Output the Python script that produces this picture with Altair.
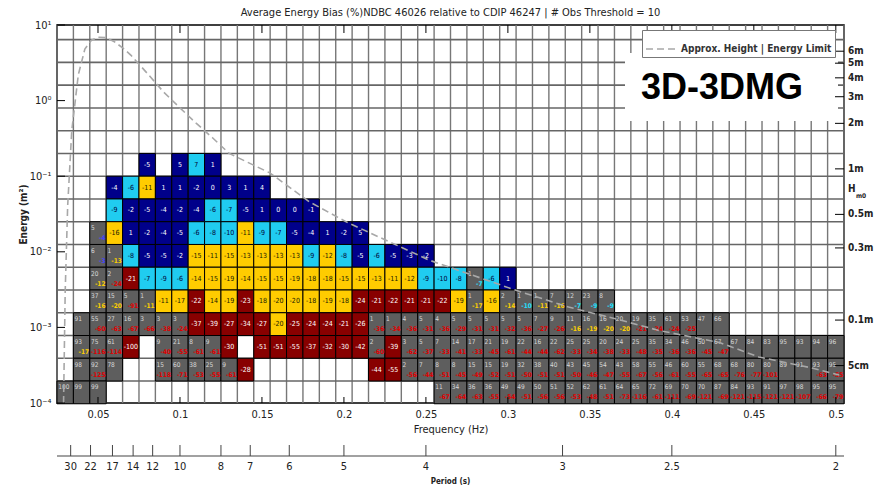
import altair as alt
import pandas as pd

TITLE = "Average Energy Bias (%)NDBC 46026 relative to CDIP 46247 | # Obs Threshold = 10"
STAMP = "3D-3DMG"
LEGEND_LABEL = "Approx. Height | Energy Limit"

FONT = "Liberation Sans Narrow, DejaVu Sans Condensed, Liberation Sans, sans-serif"

# frequency bin centres (Hz)
FREQ_BINS = [0.03, 0.04, 0.05, 0.06, 0.07, 0.08, 0.09, 0.10, 0.11, 0.12,
             0.13, 0.14, 0.15, 0.16, 0.17, 0.18, 0.19, 0.20, 0.21, 0.22,
             0.23, 0.24, 0.25, 0.26, 0.27, 0.28, 0.29, 0.30, 0.31, 0.32,
             0.33, 0.34, 0.35, 0.36, 0.37, 0.38, 0.39, 0.40, 0.41, 0.42,
             0.43, 0.44, 0.45, 0.46, 0.47, 0.48, 0.49, 0.50]
FREQ_HALF_WIDTH = 0.005

# energy bins (m^2): upper / lower edge of each row, top row first
ROW_TOP = [0.2, 0.1, 0.05, 0.025, 0.0125, 0.00625, 0.003125, 0.0015625,
           0.00078125, 0.000390625, 0.0001953125]
ROW_BOTTOM = [0.1, 0.05, 0.025, 0.0125, 0.00625, 0.003125, 0.0015625,
              0.00078125, 0.000390625, 0.0001953125, 0.00009765625]

# each row: (first frequency bin, cells)
#   number        -> coloured cell with energy bias (%)
#   [count, bias] -> grey cell (below obs threshold) with count and bias
#   None          -> empty
ROW_0 = (0.08, [-5, None, 5, 7, 1])
ROW_1 = (0.06, [-4, -6, -11, 1, 1, -2, 0, 3, 1, 4])
ROW_2 = (0.06, [-9, -2, -5, -4, -2, -4, -6, -7, -5, 1, 0, 0, -1])
ROW_3 = (0.05, [[5, -4], -16, 1, -2, -4, -5, -6, -8, -10, -11, -9, -7, -5, -4, 1, -2, 5])
ROW_4 = (0.05, [[6, -3], [1, -13], -8, -5, -5, -2, -15, -11, -15, -13, -13, -13, -13,
                -9, -12, -8, -5, -6, -5, -3, -2])
ROW_5 = (0.05, [[20, -12], [2, -24], -21, -7, -9, -6, -14, -15, -19, -14, -15, -15, -19,
                -18, -18, -15, -15, -13, -11, -12, -9, -10, -8, [1, -7], -6, 1])
ROW_6 = (0.05, [[37, -16], [15, -20], [5, -91], [1, -11], -11, -17, -22, -14, -19, -23,
                -18, -20, -20, -18, -19, -18, -24, -21, -22, -21, -21, -22, -19, [1, -17],
                -16, [2, -14], [1, -10], [1, -11], [7, -16], [12, -7], [23, -9], [8, -9]])
ROW_7 = (0.04, [[91, None], [55, -60], [27, -63], [16, -67], [3, -66], [3, -38], [3, -24],
                -37, -39, -27, -34, -27, -20, -25, -24, -24, -21, -26,
                [1, -36], [1, -34], [4, -36], [5, -31], [4, -36], [5, -29], [5, -31],
                [5, -31], [5, -32], [5, -36], [7, -27], [9, -26], [11, -16], [16, -19],
                [16, -20], [20, -20], [19, -21], [35, -24], [61, -24], [53, -25],
                [47, None], [66, None]])
ROW_8 = (0.04, [[93, -17], [75, -116], [61, -114], -100, None, [9, -40], [21, -55],
                [8, -61], [9, -61], -30, None, -51, -51, -55, -37, -32, -30, -42,
                [2, -60], -39, [3, -62], [5, -37], [7, -33], [14, -41], [17, -33],
                [21, -45], [19, -61], [22, -44], [16, -44], [22, -62], [25, -33],
                [25, -34], [20, -38], [24, -33], [25, -48], [35, -35], [34, -36],
                [46, -36], [50, -45], [67, -47], [67, None], [84, None], [83, None],
                [95, None], [93, None], [94, None], [96, None]])
ROW_9 = (0.04, [[98, None], [92, -125], [78, None], None, None, [15, -118], [60, -71],
                [38, -53], [25, -55], [9, -61], -28, None, None, None, None, None, None,
                None, -44, -55, [2, -56], [7, -44], [8, -51], [8, -45], [15, -49],
                [15, -52], [19, -51], [32, -50], [38, -51], [40, -51], [43, -50],
                [45, -46], [54, -47], [43, -55], [58, -67], [55, -56], [46, -61],
                [60, -55], [55, -65], [68, -65], [68, -76], [80, -77], [80, -101],
                [89, None], [91, None], [93, -63], [95, -55]])
ROW_10 = (0.03, [[100, None], [99, None], [99, None],
                 None, None, None, None, None, None, None, None, None, None,
                 None, None, None, None, None, None, None, None, None, None,
                 [11, -67], [34, -64], [36, -63], [36, -55], [49, -54], [49, -51],
                 [50, -56], [51, -56], [52, -53], [62, -48], [61, -51], [64, -73],
                 [65, -116], [72, -61], [69, -111], [70, -69], [70, -121], [87, -69],
                 [84, -121], [93, -115], [91, -121], [97, -121], [98, -107], [95, -66],
                 [95, -79]])
ROWS = [ROW_0, ROW_1, ROW_2, ROW_3, ROW_4, ROW_5, ROW_6, ROW_7, ROW_8, ROW_9, ROW_10]

# grid, ticks and labels
V_GRID = [0.025, 0.035, 0.045, 0.055, 0.065, 0.075, 0.085, 0.095, 0.105, 0.115,
          0.125, 0.135, 0.145, 0.155, 0.165, 0.175, 0.185, 0.195, 0.205, 0.215,
          0.225, 0.235, 0.245, 0.255, 0.265, 0.275, 0.285, 0.295, 0.305, 0.315,
          0.325, 0.335, 0.345, 0.355, 0.365, 0.375, 0.385, 0.395, 0.405, 0.415,
          0.425, 0.435, 0.445, 0.455, 0.465, 0.475, 0.485, 0.495, 0.505]
H_GRID = [6.4, 3.2, 1.6, 0.8, 0.4, 0.2, 0.1, 0.05, 0.025, 0.0125, 0.00625, 0.003125,
          0.0015625, 0.00078125, 0.000390625, 0.0001953125]
X_TICKS = [0.05, 0.1, 0.15, 0.2, 0.25, 0.3, 0.35, 0.4, 0.45, 0.5]
Y_TICKS = [0.0001, 0.001, 0.01, 0.1, 1, 10]
Y_LABELS = ["10⁻⁴", "10⁻³", "10⁻²", "10⁻¹", "10⁰", "10¹"]
H_LABELS = ["6m", "5m", "4m", "3m", "2m", "1m", "0.5m", "0.3m", "0.1m", "5cm"]
H_ENERGY = [4.5, 3.125, 2.0, 1.125, 0.5, 0.125, 0.03125, 0.01125, 0.00125, 0.0003125]
PERIODS = [30, 22, 17, 14, 12, 10, 8, 7, 6, 5, 4, 3, 2.5, 2]

# approximate height / energy limit curve
CURVE_FREQ = [0.0290, 0.0300, 0.0315, 0.0340, 0.0380, 0.0420, 0.0460, 0.0500, 0.0550,
              0.0600, 0.0650, 0.0700, 0.0800, 0.0900, 0.1000, 0.1100, 0.1200, 0.1300,
              0.1550, 0.1790, 0.2020, 0.2260, 0.2520, 0.3050, 0.3370, 0.3680, 0.3920,
              0.4290, 0.4530, 0.4840, 0.5020]
CURVE_ENERGY = [0.0001, 0.003, 0.04, 0.4, 2.2, 4.8, 6.3, 6.9, 6.8, 6.0, 5.0, 4.0, 2.3,
                1.3, 0.8, 0.5, 0.32, 0.20, 0.110, 0.0457, 0.0245, 0.0141, 0.00776,
                0.00309, 0.00186, 0.00126, 0.000912, 0.000631, 0.000407, 0.000295,
                0.000234]

CLASSES = ["a", "b", "c", "d", "g"]
CELL_COLORS = ["#00008a", "#20ccf0", "#ffcc00", "#880000", "#5e5e5e"]
TEXT_ON_CELL = {"a": "#ffffff", "b": "#000033", "c": "#1a1a00", "d": "#ffffff"}
BIAS_ON_GREY = {"a": "#4040ff", "b": "#20e0ff", "c": "#ffd000", "d": "#e00000"}


def bias_class(b):
    m = abs(b)
    if m <= 5:
        return "a"
    if m <= 10:
        return "b"
    if m <= 20:
        return "c"
    return "d"


records = []
for r, (start, entries) in enumerate(ROWS):
    i0 = FREQ_BINS.index(start)
    for j, e in enumerate(entries):
        if e is None:
            continue
        f = FREQ_BINS[i0 + j]
        rec = dict(f=f, f0=f - FREQ_HALF_WIDTH, f1=f + FREQ_HALF_WIDTH,
                   e0=ROW_BOTTOM[r], e1=ROW_TOP[r],
                   em=(ROW_BOTTOM[r] * ROW_TOP[r]) ** 0.5)
        if isinstance(e, list):
            cnt, b = e
            rec.update(cls="g", count=str(cnt),
                       bias="" if b is None else str(b),
                       bcol="#ffffff" if b is None else BIAS_ON_GREY[bias_class(b)])
        else:
            c = bias_class(e)
            rec.update(cls=c, label=str(e), tcol=TEXT_ON_CELL[c])
        records.append(rec)
cells = pd.DataFrame(records)
coloured = cells[cells["cls"] != "g"]
grey = cells[cells["cls"] == "g"]

x_scale = alt.Scale(domain=[0.025, 0.505], nice=False, zero=False)
y_scale = alt.Scale(type="log", domain=[0.0001, 10], nice=False)

label_expr = " : ".join(
    f"datum.value < {v * 3} ? '{lab}'" for v, lab in zip(Y_TICKS[:-1], Y_LABELS[:-1])
) + f" : '{Y_LABELS[-1]}'"

x_axis = alt.Axis(values=X_TICKS, format="~g", grid=False, ticks=False, domain=False,
                  labelFont=FONT, labelFontSize=11, labelColor="#222", labelPadding=5,
                  labelFlush=False, title="Frequency (Hz)", titleFont=FONT,
                  titleFontSize=11, titleFontWeight="normal", titleColor="#222",
                  titlePadding=4)
y_axis = alt.Axis(values=Y_TICKS, labelExpr=label_expr, grid=False, ticks=False,
                  domain=False, labelFont=FONT, labelFontSize=11, labelColor="#222",
                  labelPadding=6, labelFlush=False, labelOverlap=False,
                  title="Energy (m²)", titleFont=FONT, titleFontSize=10,
                  titleFontWeight="bold", titleColor="#222", titlePadding=1)


def X(field):
    return alt.X(field, type="quantitative", scale=x_scale, axis=x_axis)


def Y(field):
    return alt.Y(field, type="quantitative", scale=y_scale, axis=y_axis)


W, H = 787, 378

vgrid = alt.Chart(pd.DataFrame({"fe": V_GRID})).mark_rule(
    color="#777", strokeWidth=1.4).encode(x=X("fe"))
hgrid = alt.Chart(pd.DataFrame({"E": H_GRID})).mark_rule(
    color="#666", strokeWidth=1.6).encode(y=Y("E"))

rects = alt.Chart(cells).mark_rect(stroke="black", strokeWidth=1).encode(
    x=X("f0"), x2="f1", y=Y("e0"), y2="e1",
    color=alt.Color("cls:N", scale=alt.Scale(domain=CLASSES, range=CELL_COLORS),
                    legend=None))

cell_text = alt.Chart(coloured).mark_text(font=FONT, fontSize=7).encode(
    x=X("f"), y=Y("em"), text="label:N", color=alt.Color("tcol:N", scale=None))

grey_count = alt.Chart(grey).mark_text(font=FONT, fontSize=6.5, align="left",
                                       dx=-7, dy=-5).encode(
    x=X("f"), y=Y("em"), text="count:N", color=alt.value("#d8d8d8"))
grey_bias = alt.Chart(grey).mark_text(font=FONT, fontSize=6.5, align="right",
                                      dx=7.5, dy=5, fontWeight="bold").encode(
    x=X("f"), y=Y("em"), text="bias:N", color=alt.Color("bcol:N", scale=None))

curve_df = pd.DataFrame({"f": CURVE_FREQ, "E": CURVE_ENERGY,
                         "series": LEGEND_LABEL})
curve = alt.Chart(curve_df).mark_line(color="#a8a8a8", strokeWidth=1.6).encode(
    x=X("f"), y=Y("E"),
    strokeDash=alt.StrokeDash(
        "series:N", scale=alt.Scale(range=[[7, 4]]),
        legend=alt.Legend(title=None, orient="none", legendX=585, legendY=5,
                          fillColor="white", strokeColor="#777", padding=3,
                          labelFont=FONT, labelFontSize=10, labelFontWeight="bold",
                          labelColor="#333", symbolType="stroke",
                          symbolStrokeWidth=1.6, symbolStrokeColor="#a8a8a8",
                          symbolSize=900, labelLimit=400)))

stamp_df = pd.DataFrame({"t": [STAMP]})
stamp_box = alt.Chart(stamp_df).mark_rect(color="white").encode(
    x=alt.value(568), x2=alt.value(781), y=alt.value(28), y2=alt.value(96))
stamp_text = alt.Chart(stamp_df).mark_text(
    font="Liberation Sans, Arial, sans-serif", fontSize=36, fontWeight="bold",
    color="black", baseline="middle").encode(
    x=alt.value(665), y=alt.value(63), text="t:N")

title = alt.Chart(pd.DataFrame({"t": [TITLE]})).mark_text(
    font=FONT, fontSize=11, color="#222", baseline="middle").encode(
    x=alt.value(W / 2), y=alt.value(-12), text="t:N")

# decade ticks (left, inward) and x ticks (top/bottom, inward)
yt = pd.DataFrame({"E": Y_TICKS})
left_ticks = alt.Chart(yt).mark_rule(color="black", strokeWidth=1).encode(
    y=Y("E"), x=alt.value(0), x2=alt.value(8))
xt = pd.DataFrame({"f": X_TICKS})
top_ticks = alt.Chart(xt).mark_rule(color="black", strokeWidth=1).encode(
    x=X("f"), y=alt.value(0), y2=alt.value(8))
bottom_ticks = alt.Chart(xt).mark_rule(color="black", strokeWidth=1).encode(
    x=X("f"), y=alt.value(H - 6), y2=alt.value(H))

# right axis: significant wave height
hdf = pd.DataFrame({"E": H_ENERGY, "lab": H_LABELS})
right_ticks = alt.Chart(hdf).mark_rule(color="black", strokeWidth=1).encode(
    y=Y("E"), x=alt.value(W - 9), x2=alt.value(W))
right_labels = alt.Chart(hdf).mark_text(
    font=FONT, fontSize=10, fontWeight="bold", align="left", baseline="middle",
    color="#222").encode(y=Y("E"), x=alt.value(W + 4), text="lab:N")
hm0 = pd.DataFrame({"t": ["H"], "s": ["m0"]})
hm0_h = alt.Chart(hm0).mark_text(font=FONT, fontSize=10, fontWeight="bold",
                                 align="left", color="#222").encode(
    x=alt.value(W + 4), y=alt.value(164), text="t:N")
hm0_s = alt.Chart(hm0).mark_text(font=FONT, fontSize=6.5, fontWeight="bold",
                                 align="left", color="#222").encode(
    x=alt.value(W + 12), y=alt.value(171), text="s:N")

# period axis below the frequency axis
pdf = pd.DataFrame({"T": PERIODS})
pdf["f"] = 1.0 / pdf["T"]
pdf["lab"] = [f"{p:g}" for p in PERIODS]
PAX_Y = 431
period_line = alt.Chart(pd.DataFrame({"t": ["Period (s)"]})).mark_rule(
    color="#444", strokeWidth=1.2).encode(
    x=alt.value(0), x2=alt.value(W), y=alt.value(PAX_Y))
period_ticks = alt.Chart(pdf).mark_rule(color="#444", strokeWidth=1).encode(
    x=X("f"), y=alt.value(PAX_Y - 11), y2=alt.value(PAX_Y))
period_labels = alt.Chart(pdf).mark_text(
    font=FONT, fontSize=11, color="#222", baseline="middle").encode(
    x=X("f"), y=alt.value(PAX_Y + 11), text="lab:N")
period_title = alt.Chart(pd.DataFrame({"t": ["Period (s)"]})).mark_text(
    font=FONT, fontSize=8, fontWeight="bold", color="#222", baseline="middle").encode(
    x=alt.value(W / 2), y=alt.value(PAX_Y + 26), text="t:N")

chart = alt.layer(
    vgrid, hgrid, rects, cell_text, grey_count, grey_bias, curve,
    stamp_box, stamp_text, left_ticks, top_ticks, bottom_ticks,
    right_ticks, right_labels, hm0_h, hm0_s,
    period_line, period_ticks, period_labels, period_title, title,
).properties(
    width=W, height=H,
    autosize=alt.AutoSizeParams(type="none"),
    padding={"left": 57, "top": 25, "right": 36, "bottom": 83},
    background="white",
).configure_view(stroke="black", strokeWidth=1.5)

chart.save("out.html", embed_options={"renderer": "svg", "actions": False})
